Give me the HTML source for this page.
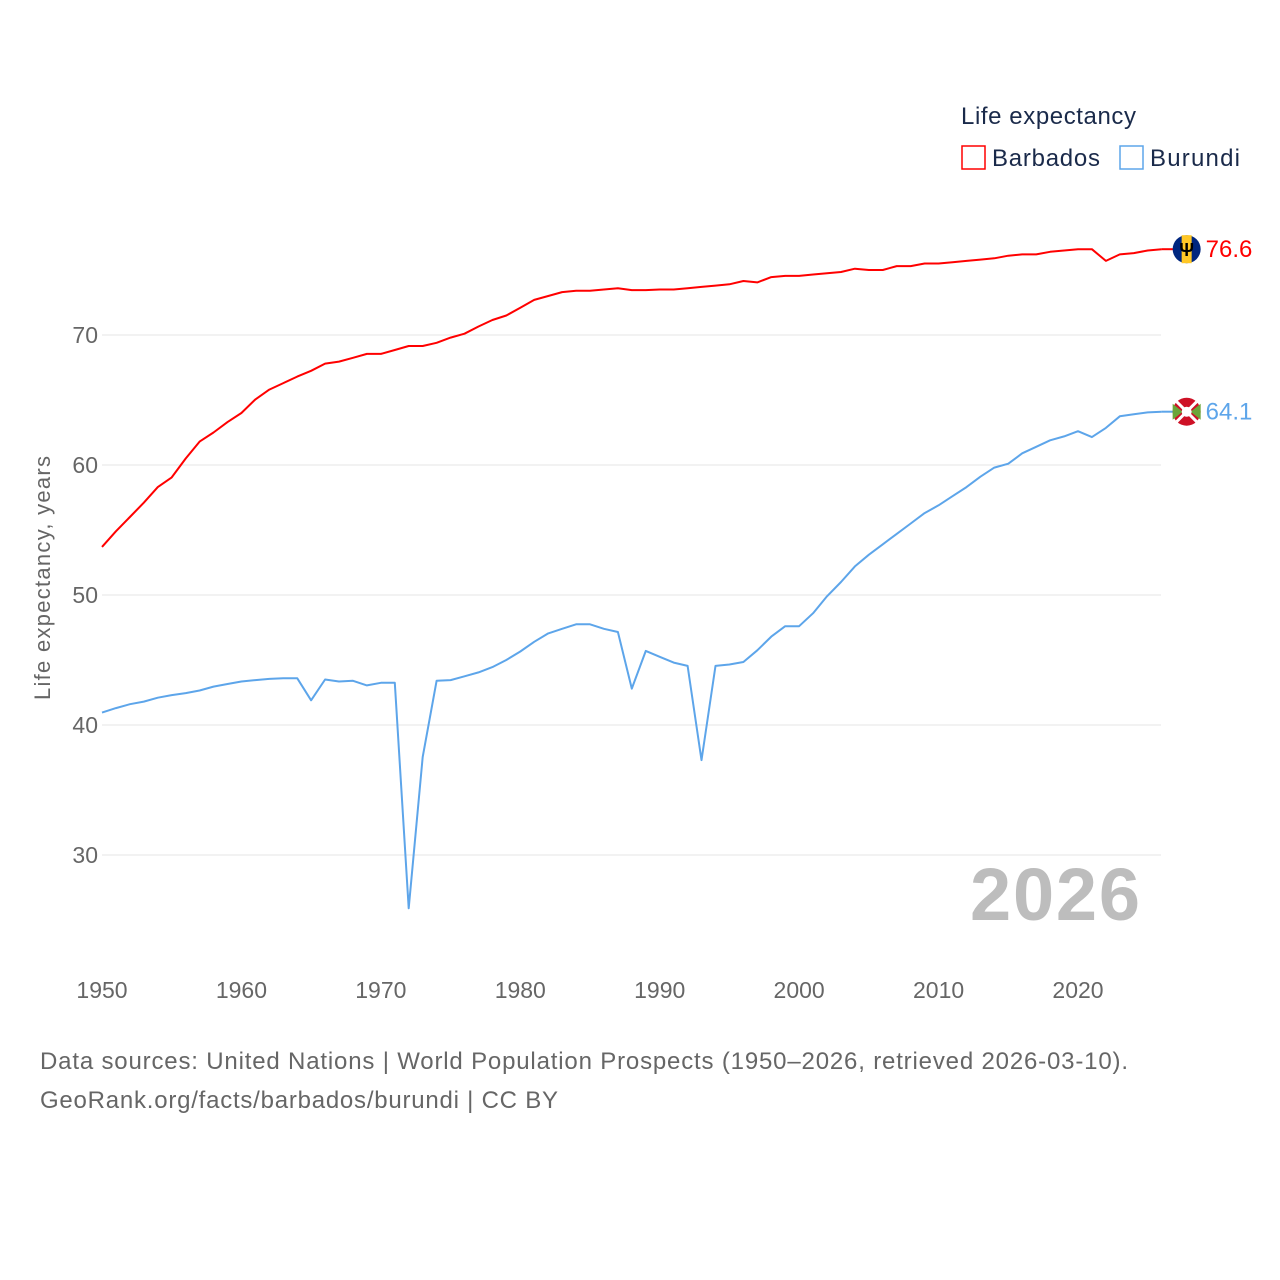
<!DOCTYPE html>
<html><head><meta charset="utf-8"><style>
body{margin:0;background:#fff}
svg{display:block;font-family:"Liberation Sans",sans-serif}
</style></head><body>
<svg id="chart" width="1280" height="1280" viewBox="0 0 1280 1280" xmlns="http://www.w3.org/2000/svg">
<g id="grid"></g>
<g id="yticks"></g>
<g id="xticks"></g>
<text transform="translate(50,578) rotate(-90)" text-anchor="middle" font-size="22" fill="#666" textLength="244">Life expectancy, years</text>
<text x="1140" y="920" text-anchor="end" font-size="74" font-weight="bold" fill="#bdbdbd" textLength="170">2026</text>
<g id="series"></g>
<text x="961" y="124" font-size="24" fill="#1a2a4a" textLength="175">Life expectancy</text>
<g><rect x="962" y="146" width="23" height="23" fill="none" stroke="#ff0000" stroke-width="1.5"/><text x="992" y="166" font-size="24" fill="#1a2a4a" textLength="108">Barbados</text></g>
<g><rect x="1120" y="146" width="23" height="23" fill="none" stroke="#5da5ea" stroke-width="1.5"/><text x="1150" y="166" font-size="24" fill="#1a2a4a" textLength="90">Burundi</text></g>
<text x="40" y="1069" font-size="24" fill="#666" textLength="1088">Data sources: United Nations | World Population Prospects (1950–2026, retrieved 2026-03-10).</text>
<text x="40" y="1108" font-size="24" fill="#666" textLength="518">GeoRank.org/facts/barbados/burundi | CC BY</text>
</svg>
<script>
const years=[];for(let y=1950;y<=2026;y++)years.push(y);
const barbados=[53.7,54.9,56.0,57.1,58.3,59.05,60.5,61.8,62.5,63.3,64.0,65.05,65.8,66.3,66.8,67.25,67.8,67.95,68.25,68.55,68.55,68.85,69.15,69.15,69.4,69.8,70.1,70.65,71.15,71.5,72.1,72.7,73.0,73.3,73.4,73.4,73.5,73.6,73.45,73.45,73.5,73.5,73.6,73.7,73.8,73.9,74.15,74.05,74.45,74.55,74.55,74.65,74.75,74.85,75.1,75.0,75.0,75.3,75.3,75.5,75.5,75.6,75.7,75.8,75.9,76.1,76.2,76.2,76.4,76.5,76.6,76.6,75.7,76.2,76.3,76.5,76.6];
const burundi=[40.95,41.3,41.6,41.8,42.1,42.3,42.45,42.65,42.95,43.15,43.35,43.45,43.55,43.6,43.6,41.9,43.5,43.35,43.4,43.05,43.25,43.25,25.9,37.55,43.4,43.45,43.75,44.05,44.45,45.0,45.65,46.4,47.05,47.4,47.75,47.75,47.4,47.15,42.8,45.7,45.25,44.8,44.55,37.3,44.55,44.65,44.85,45.75,46.8,47.6,47.6,48.6,49.9,51.0,52.2,53.1,53.9,54.7,55.5,56.3,56.9,57.6,58.3,59.1,59.8,60.1,60.9,61.4,61.9,62.2,62.6,62.15,62.85,63.75,63.9,64.05,64.1];
const yTicks=[30,40,50,60,70];
const xTicks=[1950,1960,1970,1980,1990,2000,2010,2020];
const labels=["76.6","64.1"];
const NS="http://www.w3.org/2000/svg";
const X=y=>102+(y-1950)*(976/70);
const Y=v=>335+(70-v)*13;
function mk(tag,attrs,parent){const e=document.createElementNS(NS,tag);for(const k in attrs)e.setAttribute(k,attrs[k]);parent.appendChild(e);return e;}
const grid=document.getElementById('grid'),yt=document.getElementById('yticks'),xt=document.getElementById('xticks'),ser=document.getElementById('series');
yTicks.forEach(v=>{
 const l=mk('line',{x1:102,x2:1161,y1:Y(v),y2:Y(v),stroke:'#e6e6e6','stroke-width':1},grid);
 
 
 const t=mk('text',{x:98,y:Y(v)+8,'text-anchor':'end','font-size':23,fill:'#666'},yt);
 t.textContent=v;
 
 
});
xTicks.forEach(v=>{
 const t=mk('text',{x:X(v),y:998,'text-anchor':'middle','font-size':23,fill:'#666'},xt);
 t.textContent=v;
 
 
});
function line(data,color,name){
 const p=mk('polyline',{points:data.map((v,i)=>X(years[i]).toFixed(1)+','+Y(v).toFixed(1)).join(' '),fill:'none',stroke:color,'stroke-width':2,'stroke-linejoin':'round'},ser);
 
 
}
line(barbados,'#ff0000','barbados-line');
line(burundi,'#5da5ea','burundi-line');
function endMark(data,color,label,name,flag){
 const v=data[data.length-1],x=X(years[years.length-1]),y=Y(v);
 const g=mk('g',{},ser);
 
 
 mk('line',{x1:x,x2:x+12,y1:y,y2:y,stroke:color,'stroke-width':2},g);
 const cx=x+25;
 if(flag==='bb'){
  mk('circle',{cx:cx,cy:y,r:14,fill:'#00267f'},g);
  mk('rect',{x:cx-5,y:y-14,width:10,height:28,fill:'#ffc726'},g);
  const t=mk('text',{x:cx,y:y+7,'text-anchor':'middle','font-size':18,'font-weight':'bold',fill:'#000'},g);t.textContent='Ψ';
 }else{
  mk('circle',{cx:cx,cy:y,r:14,fill:'#ce1126'},g);
  mk('path',{d:`M${cx-14},${y-8} L${cx-4},${y} L${cx-14},${y+8} Z M${cx+14},${y-8} L${cx+4},${y} L${cx+14},${y+8} Z`,fill:'#6ba539'},g);
  mk('path',{d:`M${cx-10},${y-10}L${cx+10},${y+10}M${cx+10},${y-10}L${cx-10},${y+10}`,stroke:'#fff','stroke-width':3},g);
  mk('circle',{cx:cx,cy:y,r:5,fill:'#fff'},g);
 }
 const t=mk('text',{x:cx+19,y:y+8,'font-size':24,fill:color},g);
 t.textContent=label;
}
endMark(barbados,'#ff0000',labels[0],'barbados-end-label','bb');
endMark(burundi,'#5da5ea',labels[1],'burundi-end-label','bi');
</script>
</body></html>
